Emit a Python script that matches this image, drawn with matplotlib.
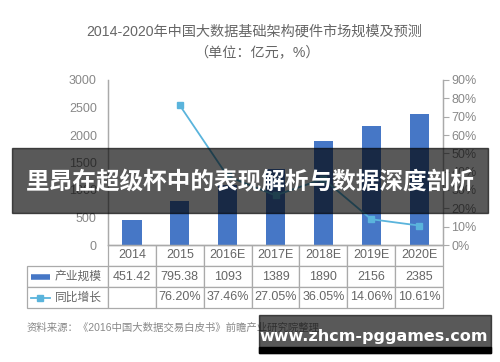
import numpy as np
import matplotlib.pyplot as plt
from matplotlib.table import Table
from matplotlib.lines import Line2D
from matplotlib.patches import Rectangle

plt.rcParams['font.family'] = ['Liberation Sans', 'Noto Sans CJK SC', 'DejaVu Sans']

years = ['2014', '2015', '2016E', '2017E', '2018E', '2019E', '2020E']
scale = [451.42, 795.38, 1093, 1389, 1890, 2156, 2385]
growth = [np.nan, 76.20, 37.46, 27.05, 36.05, 14.06, 10.61]
scale_txt = ['451.42', '795.38', '1093', '1389', '1890', '2156', '2385']
growth_txt = ['', '76.20%', '37.46%', '27.05%', '36.05%', '14.06%', '10.61%']
row_names = ['产业规模', '同比增长']

bar_c = '#4677C6'
line_c = '#5AB4DC'
txt_c = '#666666'

W, H = 500, 362
fig = plt.figure(figsize=(W / 100, H / 100), dpi=100)
fig.patch.set_facecolor('white')

# plot area in pixels
L, R, T, B = 108, 443, 80, 245
ax = fig.add_axes([L / W, 1 - B / H, (R - L) / W, (B - T) / H])
x = np.arange(len(years))
ax.bar(x, scale, width=0.4, color=bar_c, zorder=2)
ax.set_xlim(-0.5, len(years) - 0.5)
ax.set_ylim(0, 3000)
ax.set_yticks(np.arange(0, 3001, 500))
ax.set_xticks([])
ax2 = ax.twinx()
ax2.plot(x, growth, color=line_c, lw=1.3, marker='s', ms=4.5, zorder=3)
ax2.set_ylim(0, 90)
ax2.set_yticks(np.arange(0, 91, 10))
ax2.set_yticklabels([f'{v}%' for v in range(0, 91, 10)])

for a in (ax, ax2):
    a.spines['top'].set_visible(False)
    for s in ('left', 'right', 'bottom'):
        a.spines[s].set_color('#aaaaaa')
        a.spines[s].set_linewidth(0.9)
    a.tick_params(length=0, labelsize=9, colors='#888888', pad=8)
    a.set_xticks([])
ax2.tick_params(axis='y', length=4, color='#aaaaaa', pad=2)

# data table under the axes
lab_w = (L - 27) / (R - L)
row_h = (308 - B) / (B - T) / 3
tbl = Table(ax, bbox=[-lab_w, -3 * row_h, 1 + lab_w, 3 * row_h])
col_w = 1 / len(years)
for j, y in enumerate(years):
    tbl.add_cell(0, j + 1, col_w, row_h, text=y, loc='center')
for i, (name, vals) in enumerate(zip(row_names, [scale_txt, growth_txt])):
    c = tbl.add_cell(i + 1, 0, lab_w, row_h, text=name, loc='right')
    c.PAD = 0.08
    for j, v in enumerate(vals):
        tbl.add_cell(i + 1, j + 1, col_w, row_h, text=v, loc='center')
tbl.auto_set_font_size(False)
for (r, cidx), cell in tbl.get_celld().items():
    cell.set_edgecolor('#aaaaaa')
    cell.set_linewidth(0.9)
    cell.get_text().set_fontsize(8.5 if cidx == 0 else 9)
    cell.get_text().set_color(txt_c)
ax.add_table(tbl)

# legend keys inside the row label cells
k0, k1 = -lab_w + 0.012, -lab_w + 0.068
ax.add_line(Line2D([k0, k1], [-1.5 * row_h] * 2, transform=ax.transAxes,
                   color=bar_c, lw=4, clip_on=False, solid_capstyle='butt'))
ax.add_line(Line2D([k0, k1], [-2.5 * row_h] * 2, transform=ax.transAxes,
                   color=line_c, lw=1.3, clip_on=False))
ax.add_line(Line2D([(k0 + k1) / 2], [-2.5 * row_h], transform=ax.transAxes,
                   color=line_c, marker='s', ms=4, clip_on=False))

fig.text(254 / W, 1 - 32 / H, '2014-2020年中国大数据基础架构硬件市场规模及预测',
         ha='center', va='center', fontsize=10.2, color='#666666')
fig.text(257 / W, 1 - 52 / H, '（单位：亿元，%）',
         ha='center', va='center', fontsize=10.2, color='#666666')
fig.text(27 / W, 1 - 328 / H, '资料来源：《2016中国大数据交易白皮书》前瞻产业研究院整理',
         ha='left', va='center', fontsize=7.5, color='#888888')

# overlay banner and watermark
fig.patches.append(Rectangle((12 / W, 1 - 213 / H), 476 / W, 65 / H,
                             transform=fig.transFigure, color='black',
                             alpha=0.65, zorder=10))
fig.text(250 / W, 1 - 181 / H, '里昂在超级杯中的表现解析与数据深度剖析',
         ha='center', va='center', fontsize=17, color='white',
         fontweight='bold', family=['Noto Sans CJK SC'], zorder=11)
fig.patches.append(Rectangle((259 / W, 1 - 353 / H), 232 / W, 38 / H,
                             transform=fig.transFigure, color='black',
                             alpha=0.65, zorder=10))
fig.patches.append(Rectangle((259 / W, 1 - 353 / H), 232 / W, 6 / H,
                             transform=fig.transFigure, color='black', zorder=10))
fig.text(374 / W, 1 - 336 / H, 'www.zhcm-pggames.com',
         ha='center', va='center', fontsize=11.5, color='white',
         fontweight='bold', family=['DejaVu Sans'], zorder=11)

fig.savefig('out.png', dpi=100)
